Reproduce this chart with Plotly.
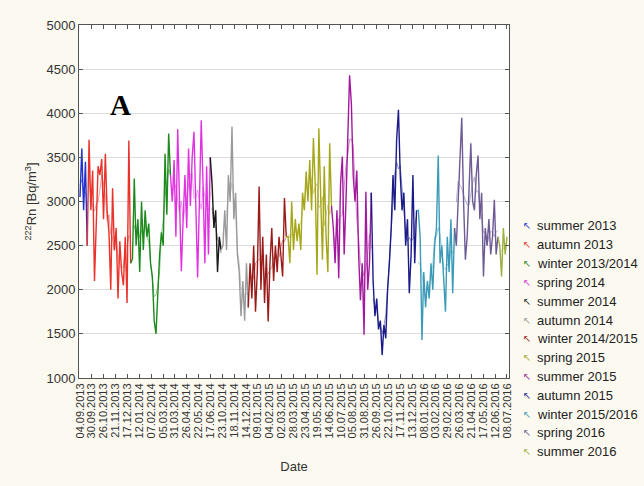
import numpy as np
import pandas as pd
import plotly.graph_objects as go

seasons = ["summer 2013", "autumn 2013", "winter 2013/2014", "spring 2014",
           "summer 2014", "autumn 2014", "winter 2014/2015", "spring 2015",
           "summer 2015", "autumn 2015", "winter 2015/2016", "spring 2016",
           "summer 2016"]
colors = ["#2233cc", "#e8322a", "#1e8a1e", "#e033e0", "#1a1a1a", "#9a9a9a",
          "#9a1a1a", "#a6a619", "#a3199e", "#1a1a8a", "#3a9ab8", "#6e5a94",
          "#9cb040"]

summer_2013 = [3050, 3600, 2900, 3450, 2500]
autumn_2013 = [3700, 2900, 3350, 2100, 2700, 3400, 3300, 3480, 2800, 3540, 2900, 2650,
               2000, 3150, 2450, 2700, 1900, 2550, 2200, 2050, 2600, 1850, 3690, 2300]
winter_2013_2014 = [2350, 3260, 2500, 2800, 2200, 3000, 2450, 2900, 2600, 2750, 2300,
                    2150, 1650, 1500, 2000, 2400, 2650, 2500, 3540, 2850, 3770, 3300]
spring_2014 = [3000, 3470, 2600, 3820, 2900, 2210, 2800, 3300, 2700, 3600, 2950, 3500,
               3790, 2800, 2140, 3000, 3920, 3200, 2300, 3400, 2400, 3500]
summer_2014 = [3200, 2700, 2900, 2200, 2600, 2450]
autumn_2014 = [2500, 2900, 2450, 3300, 3000, 3850, 2800, 3100, 2400, 2200, 1700, 2100,
               1650, 2300, 1800]
winter_2014_2015 = [2300, 1900, 2500, 1750, 2200, 3170, 2000, 2600, 1850, 2400, 1640,
                    2300, 2700, 2100, 2500, 2200, 2600, 2400, 2150, 3040, 2600]
spring_2015 = [2600, 2300, 3000, 2450, 2800, 2550, 2750, 2450, 3100, 2900, 3340, 3000,
               3470, 2900, 3720, 3200, 2170, 3830, 3100, 2340, 3400, 2600, 2200, 3660, 2950]
summer_2015 = [2700, 2300, 2900, 2130, 3200, 3510, 2400, 3000, 3700, 4430, 4100, 3300,
               3000, 3350, 2400, 1880, 2300, 1490, 3110, 2000, 2300, 3100]
autumn_2015 = [2100, 1700, 1900, 1550, 1650, 1260, 1600, 1450, 2000, 2300, 2700, 3300,
               2900, 3700, 4040, 3300, 2900, 3100, 2500, 2800, 1960, 2400, 3300, 2300, 2900]
winter_2015_2016 = [2900, 2600, 1430, 2200, 1800, 2100, 1900, 2300, 2000, 2500, 2700,
                    3520, 2300, 2500, 2100, 1750, 2600, 2200, 2800, 1960, 2700]
spring_2016 = [2500, 3000, 3470, 3950, 3000, 2340, 2600, 3200, 3660, 3000, 2900, 3300,
               3520, 2800, 3100, 2150, 2700, 2500, 2800, 2400, 2600, 3020, 2400, 2600]
summer_2016 = [2500, 2150, 2700, 2400, 2600]

season_values = [summer_2013, autumn_2013, winter_2013_2014, spring_2014, summer_2014,
                 autumn_2014, winter_2014_2015, spring_2015, summer_2015, autumn_2015,
                 winter_2015_2016, spring_2016, summer_2016]

tick_labels = ["04.09.2013", "30.09.2013", "26.10.2013", "21.11.2013", "17.12.2013",
               "12.01.2014", "07.02.2014", "05.03.2014", "31.03.2014", "26.04.2014",
               "22.05.2014", "17.06.2014", "23.10.2014", "18.11.2014", "14.12.2014",
               "09.01.2015", "04.02.2015", "02.03.2015", "28.03.2015", "23.04.2015",
               "19.05.2015", "14.06.2015", "10.07.2015", "05.08.2015", "31.08.2015",
               "26.09.2015", "22.10.2015", "17.11.2015", "13.12.2015", "08.01.2016",
               "03.02.2016", "29.02.2016", "26.03.2016", "21.04.2016", "17.05.2016",
               "12.06.2016", "08.07.2016"]
obs_per_tick = 26
tick_vals = [obs_per_tick * i for i in range(len(tick_labels))]

N = sum(len(v) for v in season_values)
step = tick_vals[-1] / (N - 1)

fig = go.Figure()
start = 0
prev = None
for name, col, vals in zip(seasons, colors, season_values):
    idx = np.arange(start, start + len(vals))
    x = idx * step
    y = np.array(vals, dtype=float)
    xs, ys = x, y
    if prev is not None:
        xs = np.concatenate([[prev[0]], x])
        ys = np.concatenate([[prev[1]], y])
    fig.add_trace(go.Scatter(x=xs, y=ys, mode="lines", name=name,
                             line=dict(color=col, width=1.4), showlegend=False))
    smooth = pd.Series(y).rolling(5, center=True, min_periods=1).mean()
    fig.add_trace(go.Scatter(x=x, y=smooth, mode="lines", line=dict(color=col, width=0.8),
                             opacity=0.6, showlegend=False, hoverinfo="skip"))
    prev = (x[-1], y[-1])
    start += len(vals)

# plot area geometry (pixels) for placing legend text
L, R, T, B = 79, 509, 25, 378
W, H = 644, 486

annotations = []
for i, (name, col) in enumerate(zip(seasons, colors)):
    py = 226 + i * 18.8
    yp = (B - py) / (B - T)
    annotations.append(dict(x=(527 - L) / (R - L), y=yp, xref="paper", yref="paper",
                            text="\u2196", showarrow=False, xanchor="center", yanchor="middle",
                            font=dict(family="DejaVu Sans", size=10, color=col)))
    annotations.append(dict(x=(535 - L) / (R - L), y=yp, xref="paper", yref="paper",
                            text=name, showarrow=False, xanchor="left", yanchor="middle",
                            font=dict(family="Arial, Liberation Sans", size=13, color="#222")))
annotations.append(dict(x=(120 - L) / (R - L), y=(B - 105) / (B - T), xref="paper", yref="paper",
                        text="<b>A</b>", showarrow=False, xanchor="center", yanchor="middle",
                        font=dict(family="Liberation Serif", size=29, color="black")))

fig.update_layout(
    width=W, height=H,
    margin=dict(l=L, r=W - R, t=T, b=H - B, autoexpand=False),
    paper_bgcolor="#fcfaf0", plot_bgcolor="white",
    font=dict(family="Arial, Liberation Sans", size=13, color="#333"),
    annotations=annotations,
    showlegend=False,
)
fig.update_xaxes(range=[-2.2, 940.4], tickvals=tick_vals, ticktext=tick_labels,
                 tickangle=-90, tickfont=dict(size=11, color="#333"),
                 showgrid=False, zeroline=False, showline=True, linecolor="#555",
                 linewidth=1, mirror="allticks", ticks="inside", ticklen=4, tickcolor="#555",
                 title=dict(text="Date", font=dict(size=13, color="#333"), standoff=24))
fig.update_yaxes(range=[1000, 5000], dtick=500, tickfont=dict(size=13, color="#333"),
                 showgrid=True, gridcolor="#dcdcdc", zeroline=False, showline=True,
                 linecolor="#555", linewidth=1, mirror="allticks", ticks="inside",
                 ticklen=4, tickcolor="#555",
                 title=dict(text="<sup>222</sup>Rn [Bq/m<sup>3</sup>]",
                            font=dict(size=13, color="#333"), standoff=6))

fig.write_html("out.html")
